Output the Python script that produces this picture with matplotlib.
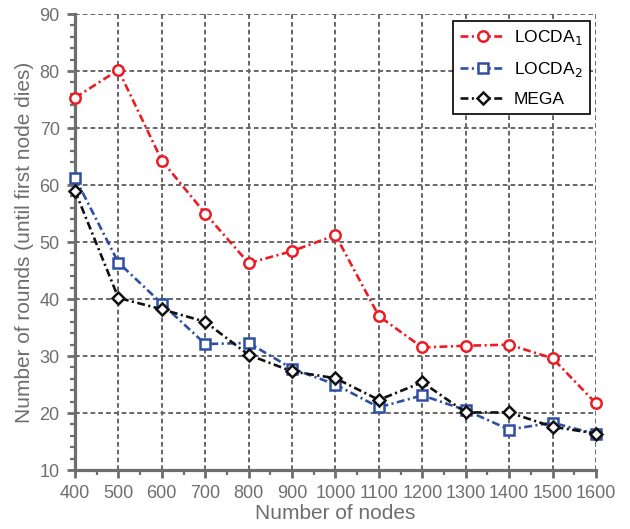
import numpy as np
import matplotlib.pyplot as plt
from matplotlib.ticker import MultipleLocator

plt.rcParams['font.family'] = ['Liberation Sans', 'DejaVu Sans']

nodes = [400, 500, 600, 700, 800, 900, 1000, 1100, 1200, 1300, 1400, 1500, 1600]
locda1 = [75.3, 80.2, 64.3, 55.0, 46.3, 48.4, 51.2, 37.0, 31.5, 31.8, 32.0, 29.6, 21.7]
locda2 = [61.3, 46.4, 39.2, 32.1, 32.3, 27.8, 25.0, 21.0, 23.1, 20.5, 17.1, 18.3, 16.3]
mega = [59.0, 40.2, 38.2, 36.0, 30.2, 27.3, 26.1, 22.3, 25.4, 20.1, 20.1, 17.6, 16.4]

axcol = '#6e6e6e'
dd = (3, 1.3, 0.8, 1.3)

fig = plt.figure(figsize=(6.3, 5.29), dpi=100)
ax = fig.add_axes([0.119, 0.1115, 0.827, 0.862])

ax.plot(nodes, locda1, color='#ec1c24', lw=1.9, dashes=dd, marker='o', ms=7.5, mfc='white', mew=1.8,
        label='LOCDA$_1$', zorder=3, clip_on=False)
ax.plot(nodes, locda2, color='#2e4fa3', lw=1.9, dashes=dd, marker='s', ms=6.5, mfc='white', mew=1.8,
        label='LOCDA$_2$', zorder=3, clip_on=False)
ax.plot(nodes, mega, color='#111111', lw=1.9, dashes=dd, marker='D', ms=6.5, mfc='white', mew=1.8,
        label='MEGA', zorder=4, clip_on=False)

ax.set_xlim(400, 1600)
ax.set_ylim(10, 90)
ax.set_xticks(nodes)
ax.xaxis.set_minor_locator(MultipleLocator(50))
ax.yaxis.set_major_locator(MultipleLocator(10))
ax.yaxis.set_minor_locator(MultipleLocator(2))
ax.grid(True, which='major', ls=(0, (2.4, 1.6)), color='#666666', lw=1.4)

for s in ['top', 'right']:
    ax.spines[s].set_visible(False)
for s in ['left', 'bottom']:
    ax.spines[s].set_color(axcol)
    ax.spines[s].set_linewidth(2.3)
ax.tick_params(which='both', direction='out', colors=axcol, labelcolor=axcol, labelsize=13)
ax.tick_params(which='major', length=6, width=2, pad=5)
ax.tick_params(which='minor', length=3.5, width=1.6)

ax.set_xlabel('Number of nodes', fontsize=15, color=axcol, labelpad=1)
ax.set_ylabel('Number of rounds (until first node dies)', fontsize=15, color=axcol, labelpad=4)

leg = ax.legend(loc='upper right', bbox_to_anchor=(0.988, 0.985), fontsize=12.5, fancybox=False,
                framealpha=1, edgecolor='black', handlelength=2.6, handletextpad=0.5,
                borderpad=0.4, labelspacing=0.75, borderaxespad=0)
leg.get_frame().set_linewidth(1.2)
leg.set_zorder(10)

fig.savefig('out.png', dpi=100)
